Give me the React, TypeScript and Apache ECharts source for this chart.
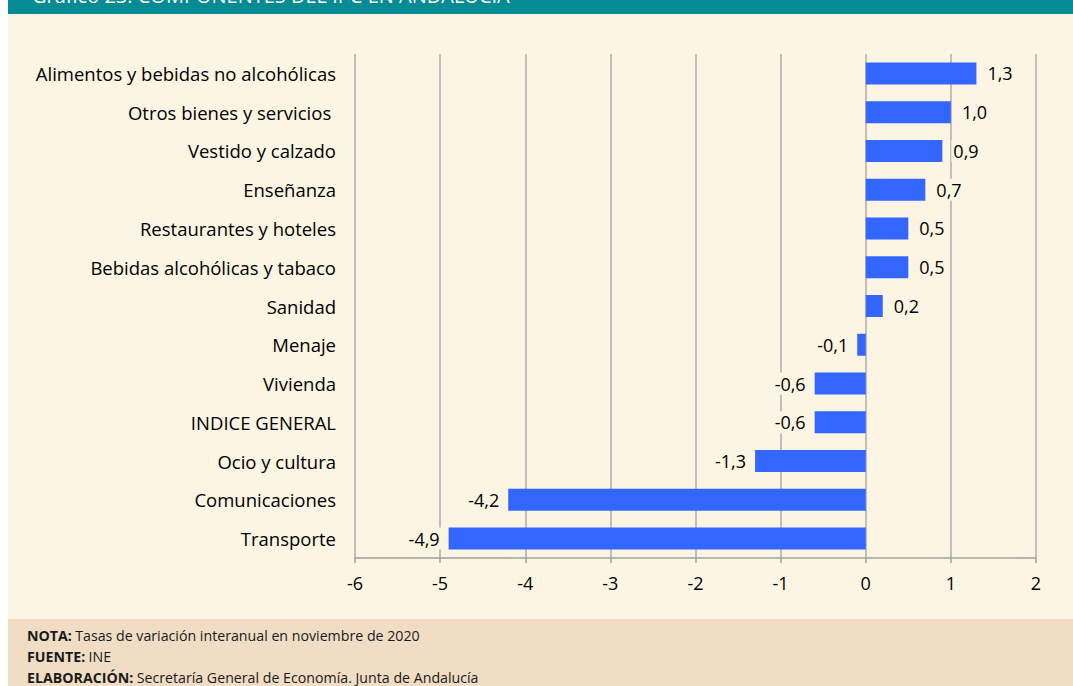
import React, { useEffect, useRef } from "react";
import * as echarts from "echarts";

const categories = [
  "Alimentos y bebidas no alcohólicas",
  "Otros bienes y servicios ",
  "Vestido y calzado",
  "Enseñanza",
  "Restaurantes y hoteles",
  "Bebidas alcohólicas y tabaco",
  "Sanidad",
  "Menaje",
  "Vivienda",
  "INDICE GENERAL",
  "Ocio y cultura",
  "Comunicaciones",
  "Transporte",
];
const values = [1.3, 1.0, 0.9, 0.7, 0.5, 0.5, 0.2, -0.1, -0.6, -0.6, -1.3, -4.2, -4.9];
const xMin = -6;
const xMax = 2;
const xInterval = 1;

const title = "Gráfico 23. COMPONENTES DEL IPC EN ANDALUCÍA";
const notes = [
  { label: "NOTA:", text: "Tasas de variación interanual en noviembre de 2020" },
  { label: "FUENTE:", text: "INE" },
  { label: "ELABORACIÓN:", text: "Secretaría General de Economía. Junta de Andalucía" },
];

const CREAM = "#FDF5E3";
const FONT = "Open Sans";

export default function App() {
  const ref = useRef<HTMLDivElement>(null);
  useEffect(() => {
    if (!ref.current) return;
    const chart = echarts.init(ref.current, undefined, { renderer: "svg" });
    const fmt = (v: number) => v.toFixed(1).replace(".", ",");
    chart.setOption({
      animation: false,
      backgroundColor: "#ffffff",
      textStyle: { fontFamily: FONT },
      graphic: [
        { type: "rect", z: -10, shape: { x: 8, y: 0, width: 1065, height: 14 }, style: { fill: "#068A93" } },
        { type: "rect", z: -10, shape: { x: 8, y: 14, width: 1065, height: 605 }, style: { fill: CREAM } },
        { type: "rect", z: -10, shape: { x: 8, y: 619, width: 1065, height: 67 }, style: { fill: "#F0DDC4" } },
        {
          type: "text",
          z: 5,
          x: 32,
          y: -15,
          style: { text: title, fill: "#ffffff", font: `20px "Open Sans"` },
        },
        ...notes.map((n, i) => ({
          type: "text",
          z: 5,
          x: 27,
          y: 628 + i * 21,
          style: {
            text: `{b|${n.label}} {r|${n.text}}`,
            rich: {
              b: { fontWeight: "bold", fontSize: 14.2, fontFamily: "Open Sans", fill: "#1a1a1a" },
              r: { fontSize: 14.2, fontFamily: "Open Sans", fill: "#1a1a1a" },
            },
          },
        })),
      ],
      grid: { left: 355, right: 37, top: 54, bottom: 128, containLabel: false },
      xAxis: {
        type: "value",
        min: xMin,
        max: xMax,
        interval: xInterval,
        axisLine: { show: true, lineStyle: { color: "#A0A0A0", width: 1.5 } },
        axisTick: { show: true, length: 5, lineStyle: { color: "#A0A0A0", width: 1.5 } },
        splitLine: { show: true, lineStyle: { color: "#ADADAD", width: 1.5 } },
        axisLabel: { fontSize: 18, color: "#000", margin: 16, fontFamily: FONT },
      },
      yAxis: {
        type: "category",
        inverse: true,
        data: categories,
        axisLine: { show: false },
        axisTick: { show: false },
        axisLabel: { fontSize: 18.5, color: "#000", margin: 19, fontFamily: FONT },
      },
      series: [
        {
          type: "bar",
          barWidth: 22,
          itemStyle: { color: "#3366FF" },
          z: 3,
          data: values.map((v) => ({
            value: v,
            label: {
              show: true,
              position: v >= 0 ? "right" : "left",
              distance: v >= 0 ? 9 : 7,
              formatter: () => fmt(v),
              fontSize: 18,
              color: "#000",
              fontFamily: FONT,
              backgroundColor: CREAM,
              padding: [2, 2, 2, 2],
            },
          })),
        },
      ],
    });
    return () => chart.dispose();
  }, []);
  return (
    <div style={{ position: "fixed", left: 0, top: 0, width: 1073, height: 686 }}>
      <div ref={ref} style={{ width: 1073, height: 686 }} />
    </div>
  );
}
